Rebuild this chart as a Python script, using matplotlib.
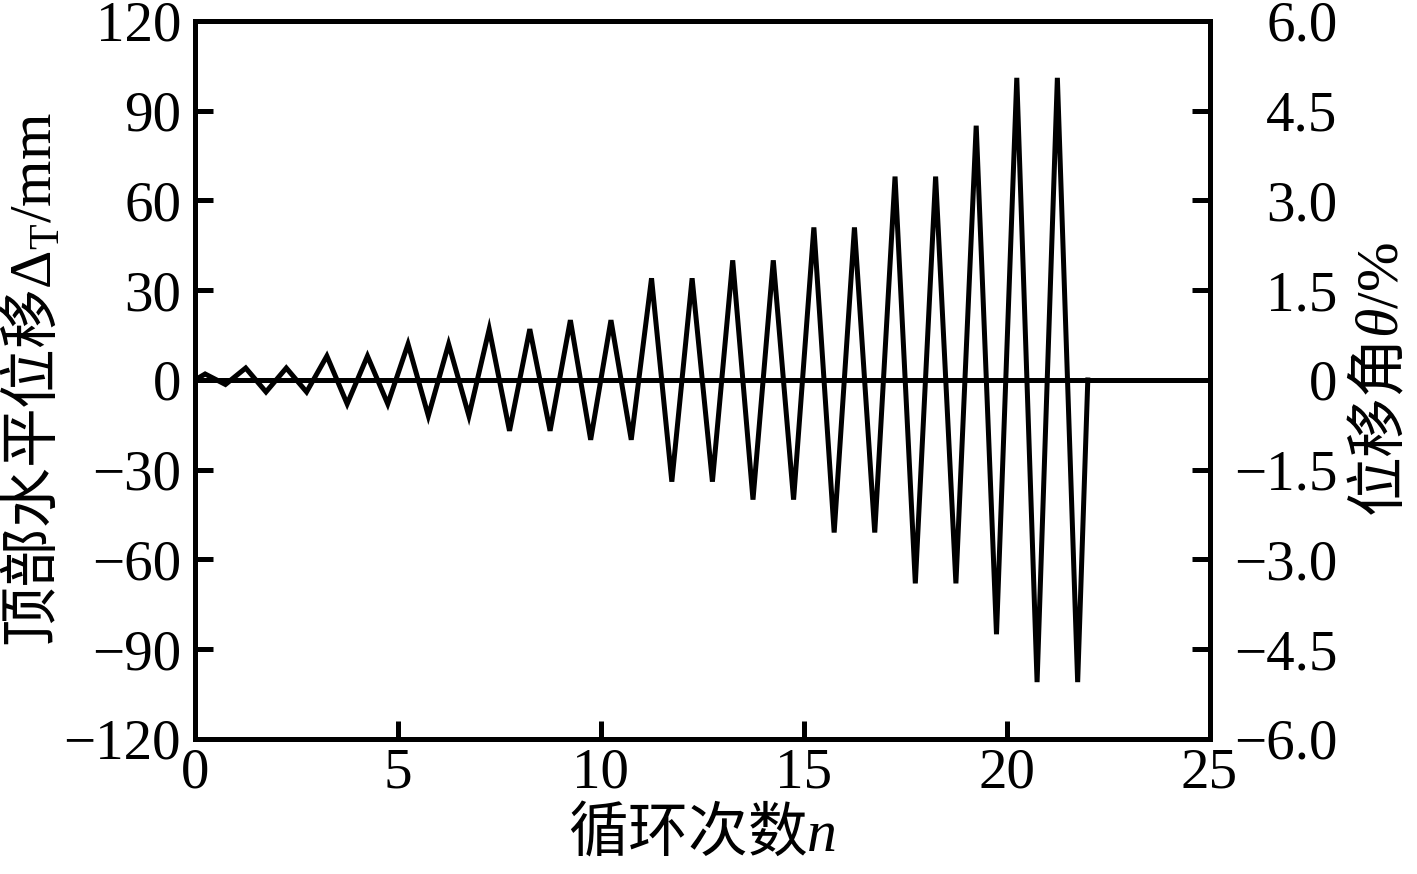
import numpy as np
import matplotlib
matplotlib.use("Agg")
import matplotlib.pyplot as plt

plt.rcParams['font.family'] = ['Liberation Serif', 'Noto Sans CJK SC']
plt.rcParams['mathtext.fontset'] = 'custom'
plt.rcParams['mathtext.rm'] = 'Liberation Serif'
plt.rcParams['mathtext.it'] = 'Liberation Serif:italic'
plt.rcParams['axes.unicode_minus'] = True

# peak values for each loading cycle (mm)
pos_peaks = [2, 4, 4, 8, 8, 12, 12, 17, 17, 20, 20, 34, 34, 40, 40,
             51, 51, 68, 68, 85, 101, 101]
neg_peaks = [-1.5, -4, -4, -8, -8, -12, -12, -17, -17, -20, -20, -34, -34,
             -40, -40, -51, -51, -68, -68, -85, -101, -101]

left_ticks = [-120, -90, -60, -30, 0, 30, 60, 90, 120]
right_ticks = [-6.0, -4.5, -3.0, -1.5, 0, 1.5, 3.0, 4.5, 6.0]
right_labels = ["\u22126.0", "\u22124.5", "\u22123.0", "\u22121.5", "0",
                "1.5", "3.0", "4.5", "6.0"]

# build the loading path: 0 -> +peak -> -peak -> ... -> 0
n_cyc = len(pos_peaks)
x = [0.0]
y = [0.0]
for i in range(n_cyc):
    x += [i + 0.25, i + 0.75]
    y += [pos_peaks[i], neg_peaks[i]]
x.append(n_cyc)
y.append(0.0)

fig = plt.figure(figsize=(14.17, 8.74), dpi=100)
ax = fig.add_axes([0.1376, 0.1545, 0.716, 0.8215])

ax.plot(x, y, "k-", lw=3.6, solid_joinstyle="miter")
ax.axhline(0, color="k", lw=3.6)

ax.set_xlim(0, 25)
ax.set_ylim(-120, 120)
ax.set_xticks([0, 5, 10, 15, 20, 25])
ax.set_yticks(left_ticks)
for s in ax.spines.values():
    s.set_linewidth(3.6)
ax.tick_params(direction="in", length=13, width=3.6, labelsize=41, top=False)
ax.tick_params(axis="y", pad=10)
ax.tick_params(axis="x", pad=6)

ax.set_xlabel("循环次数$\\mathit{n}$", fontsize=43,
              family=['Noto Sans CJK SC'], labelpad=3)
ax.set_ylabel("顶部水平位移$\\mathit{Δ}_{\\rm T}{\\rm /mm}$", fontsize=43,
              family=['Noto Sans CJK SC'], labelpad=-2)

ax2 = ax.twinx()
ax2.set_ylim(-6, 6)
ax2.set_yticks(right_ticks)
ax2.set_yticklabels(right_labels)
ax2.tick_params(direction="in", length=13, width=3.6, labelsize=41, pad=92)
for t in ax2.get_yticklabels():
    t.set_horizontalalignment("right")
for s in ax2.spines.values():
    s.set_linewidth(3.6)
ax2.set_ylabel("位移角$\\mathit{θ}{\\rm /\\%}$", fontsize=43,
               family=['Noto Sans CJK SC'], labelpad=10)

fig.savefig("out.png", dpi=100)
